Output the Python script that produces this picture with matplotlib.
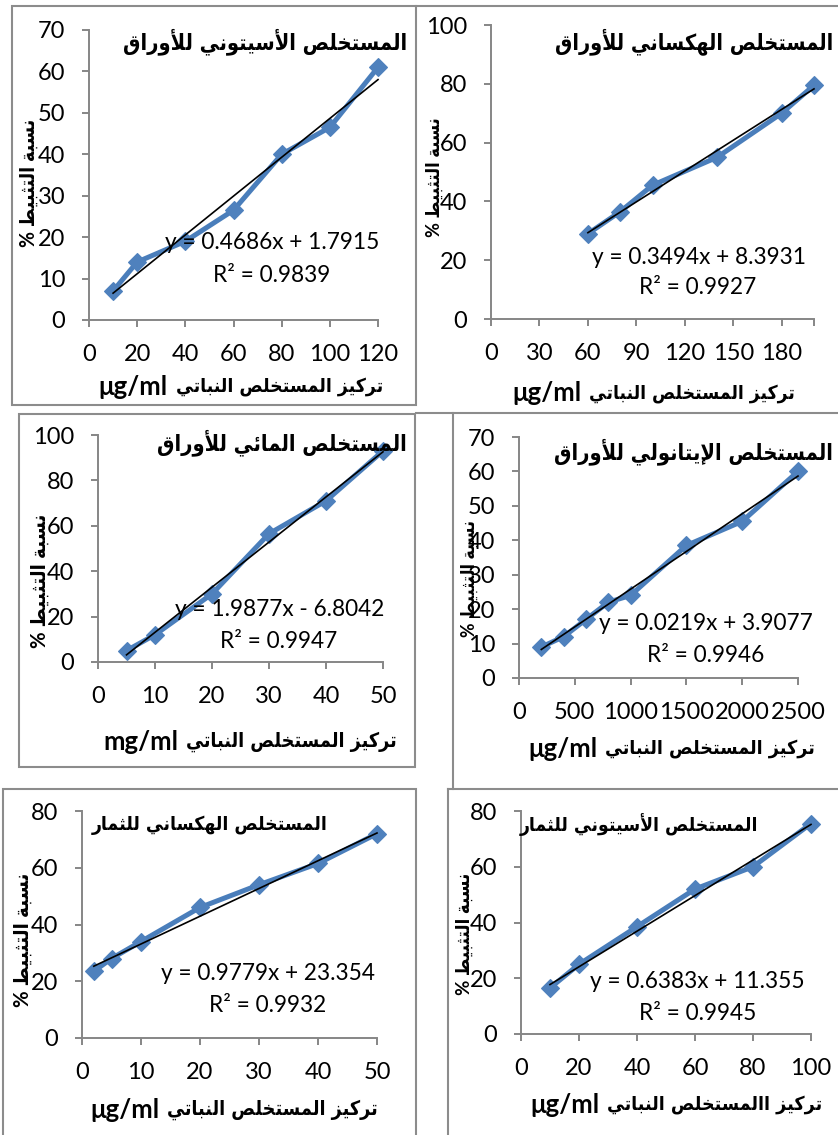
import matplotlib
matplotlib.use("Agg")
import matplotlib.pyplot as plt
from matplotlib.lines import Line2D
from matplotlib.patches import Rectangle

# ---------------------------------------------------------------- data
titles = [
    "المستخلص الأسيتوني للأوراق",
    "المستخلص الهكساني للأوراق",
    "المستخلص المائي للأوراق",
    "المستخلص الإيتانولي للأوراق",
    "المستخلص الهكساني للثمار",
    "المستخلص الأسيتوني للثمار",
]
ylabel_ar = "نسبة التثبيط"
xlabel_ar = "تركيز المستخلص النباتي"
xlabel_ar_fruit_acetone = "تركيز االمستخلص النباتي"
units = ["μg/ml", "μg/ml", "mg/ml", "μg/ml", "μg/ml", "μg/ml"]

# leaves, acetone extract
x_leaf_acetone = [10, 20, 40, 60, 80, 100, 120]
y_leaf_acetone = [7, 14, 19, 26.5, 40, 46.5, 61]
# leaves, hexane extract
x_leaf_hexane = [60, 80, 100, 140, 180, 200]
y_leaf_hexane = [29, 36.5, 45.5, 55, 70, 79.5]
# leaves, aqueous extract
x_leaf_water = [5, 10, 20, 30, 40, 50]
y_leaf_water = [5, 12, 30, 56.5, 71, 93]
# leaves, ethanol extract
x_leaf_ethanol = [200, 400, 600, 800, 1000, 1500, 2000, 2500]
y_leaf_ethanol = [9, 12, 17, 22, 24, 38.5, 45.5, 60]
# fruits, hexane extract
x_fruit_hexane = [2, 5, 10, 20, 30, 40, 50]
y_fruit_hexane = [23.5, 28, 34, 46, 54, 61.5, 72]
# fruits, acetone extract
x_fruit_acetone = [10, 20, 40, 60, 80, 100]
y_fruit_acetone = [16.5, 25, 38.5, 52, 60, 75.5]

# linear trend lines (slope, intercept, R²)
slopes = [0.4686, 0.3494, 1.9877, 0.0219, 0.9779, 0.6383]
intercepts = [1.7915, 8.3931, -6.8042, 3.9077, 23.354, 11.355]
r_squared = [0.9839, 0.9927, 0.9947, 0.9946, 0.9932, 0.9945]
slope_fmt = ["{:.4f}", "{:.4f}", "{:.4f}", "{:.4f}", "{:.4f}", "{:.4f}"]
icpt_fmt = ["{:.4f}", "{:.4f}", "{:.4f}", "{:.4f}", "{:.3f}", "{:.3f}"]

# axis ticks
xticks = [
    [0, 20, 40, 60, 80, 100, 120],
    [0, 30, 60, 90, 120, 150, 180],
    [0, 10, 20, 30, 40, 50],
    [0, 500, 1000, 1500, 2000, 2500],
    [0, 10, 20, 30, 40, 50],
    [0, 20, 40, 60, 80, 100],
]
xmax = [120, 200, 50, 2500, 50, 100]
yticks = [
    [0, 10, 20, 30, 40, 50, 60, 70],
    [0, 20, 40, 60, 80, 100],
    [0, 20, 40, 60, 80, 100],
    [0, 10, 20, 30, 40, 50, 60, 70],
    [0, 20, 40, 60, 80],
    [0, 20, 40, 60, 80],
]

series_x = [x_leaf_acetone, x_leaf_hexane, x_leaf_water,
            x_leaf_ethanol, x_fruit_hexane, x_fruit_acetone]
series_y = [y_leaf_acetone, y_leaf_hexane, y_leaf_water,
            y_leaf_ethanol, y_fruit_hexane, y_fruit_acetone]

# ---------------------------------------------------------------- Arabic shaping
# presentation-form code point of the isolated glyph, and number of forms
# (2 = joins only to the preceding letter, 4 = joins on both sides)
_FORMS = {
    'ا': (0xFE8D, 2), 'أ': (0xFE83, 2), 'إ': (0xFE87, 2), 'ب': (0xFE8F, 4),
    'ة': (0xFE93, 2), 'ت': (0xFE95, 4), 'ث': (0xFE99, 4), 'خ': (0xFEA5, 4),
    'ر': (0xFEAD, 2), 'ز': (0xFEAF, 2), 'س': (0xFEB1, 4), 'ص': (0xFEB9, 4),
    'ط': (0xFEC1, 4), 'ق': (0xFED5, 4), 'ك': (0xFED9, 4), 'ل': (0xFEDD, 4),
    'م': (0xFEE1, 4), 'ن': (0xFEE5, 4), 'ه': (0xFEE9, 4), 'و': (0xFEED, 2),
    'ي': (0xFEF1, 4), 'ئ': (0xFE89, 4),
}
_LAM_ALEF = {'ا': 0xFEFB, 'أ': 0xFEF7, 'إ': 0xFEF9}


def shape_ar(text):
    """Contextual forms + lam-alef ligatures, returned in visual order."""
    tokens = []
    i = 0
    while i < len(text):
        c = text[i]
        if c == 'ل' and i + 1 < len(text) and text[i + 1] in _LAM_ALEF:
            tokens.append(('LA', _LAM_ALEF[text[i + 1]]))
            i += 2
        else:
            tokens.append(('C', c))
            i += 1

    def joining(tok):
        if tok[0] == 'LA':
            return 2
        return _FORMS.get(tok[1], (0, 0))[1]

    out = []
    for k, tok in enumerate(tokens):
        n = joining(tok)
        prev = k > 0 and joining(tokens[k - 1]) == 4
        nxt = n == 4 and k + 1 < len(tokens) and joining(tokens[k + 1]) > 0
        if tok[0] == 'LA':
            out.append(chr(tok[1] + (1 if prev else 0)))
        elif n == 0:
            out.append(tok[1])
        elif n == 2:
            out.append(chr(_FORMS[tok[1]][0] + (1 if prev else 0)))
        else:
            off = 3 if (prev and nxt) else 1 if prev else 2 if nxt else 0
            out.append(chr(_FORMS[tok[1]][0] + off))
    return ''.join(reversed(out))


# ---------------------------------------------------------------- layout (pixels)
W, H = 838, 1135
fig = plt.figure(figsize=(W / 100, H / 100), dpi=100)
fig.patch.set_facecolor("white")
renderer = fig.canvas.get_renderer()


def fx(x):
    return x / W


def fy(y):
    return 1 - y / H


def fit(txt, length_px, vertical=False):
    """Scale a text's font size so that it spans length_px pixels."""
    ext = txt.get_window_extent(renderer)
    cur = ext.height if vertical else ext.width
    txt.set_fontsize(txt.get_fontsize() * length_px / cur)


# axes boxes: left, right, top, bottom
axes_px = [
    (89, 378, 30, 320),
    (491, 814, 25, 319),
    (98, 383, 435, 662),
    (519, 798, 437, 678),
    (82, 377, 811, 1038),
    (521, 811, 811, 1034),
]
# title: left, right, centre-y
title_px = [(122, 407, 42), (553, 833, 42), (156, 407, 443),
            (552, 833, 452), (91, 328, 825), (518, 758, 825)]
eq_px = [(272, 243), (699, 258), (280, 610), (706, 623), (268, 973), (697, 982)]
r2_px = [(272, 275), (698, 288), (279, 642), (706, 655), (268, 1005), (698, 1013)]
# y-axis title: centre-x, top, bottom
ylab_px = [(29, 118, 247), (434, 117, 238), (40, 513, 648),
           (469, 520, 637), (23, 872, 1007), (464, 872, 995)]
# x-axis title: unit left, Arabic right, centre-y
xlab_px = [(98, 383, 387), (512, 795, 393), (103, 397, 742),
           (528, 815, 749), (90, 378, 1110), (530, 822, 1105)]

FRAME = "#8c8c8c"
AXIS = "#868686"
LINE_BLUE = "#4A7EBB"
MARK_BLUE = "#4F81BD"
NUM_FONT = ["Lato", "DejaVu Sans"]
AR_FONT = ["DejaVu Sans"]
MIX_FONT = ["Lato", "DejaVu Sans"]
AR_KW = dict(fontweight="bold", family=AR_FONT, fontstretch="condensed")

# chart-area frames
frame_kw = dict(color=FRAME, lw=1.5, transform=fig.transFigure)
for (l, t, r, b) in [(12, 6, 416, 405), (19, 414, 415, 767), (3, 789, 416, 1140)]:
    fig.add_artist(Rectangle((fx(l), fy(b)), fx(r) - fx(l), fy(t) - fy(b),
                             fill=False, edgecolor=FRAME, lw=1.5,
                             transform=fig.transFigure))
for (x0, y0, x1, y1) in [(416, 6, 840, 6),
                         (416, 413, 840, 413), (453, 413, 453, 789),
                         (448, 789, 840, 789), (448, 789, 448, 1140)]:
    fig.add_artist(Line2D([fx(x0), fx(x1)], [fy(y0), fy(y1)], **frame_kw))

for k in range(6):
    l, r, t, b = axes_px[k]
    ax = fig.add_axes([fx(l), fy(b), fx(r) - fx(l), fy(t) - fy(b)])
    ax.set_facecolor("none")
    xs, ys = series_x[k], series_y[k]

    ax.plot(xs, ys, color=LINE_BLUE, lw=3.6, marker="D", ms=9.6,
            mfc=MARK_BLUE, mec=MARK_BLUE, mew=0.8, solid_joinstyle="round",
            clip_on=False, zorder=3)
    x0, x1 = xs[0], xs[-1]
    ax.plot([x0, x1], [slopes[k] * x0 + intercepts[k], slopes[k] * x1 + intercepts[k]],
            color="black", lw=1.2, clip_on=False, zorder=4)

    ax.set_xlim(0, xmax[k])
    ax.set_ylim(yticks[k][0], yticks[k][-1])
    ax.set_xticks(xticks[k])
    ax.set_xticklabels([str(v) for v in xticks[k]])
    if xmax[k] not in xticks[k]:
        ax.set_xticks([xmax[k]], minor=True)
    ax.set_yticks(yticks[k])
    ax.set_yticklabels([str(v) for v in yticks[k]])

    for side in ("top", "right"):
        ax.spines[side].set_visible(False)
    for side in ("left", "bottom"):
        ax.spines[side].set_color(AXIS)
        ax.spines[side].set_linewidth(1.4)
    ax.tick_params(axis="both", which="both", direction="out", length=5,
                   width=1.4, color=AXIS, labelsize=17, labelcolor="black")
    ax.tick_params(axis="x", pad=12.5)
    ax.tick_params(axis="y", pad=12)
    for lab in ax.get_xticklabels() + ax.get_yticklabels():
        lab.set_family(NUM_FONT)

    # trend-line equation
    sign = "+" if intercepts[k] >= 0 else "-"
    eq = "y = " + slope_fmt[k].format(slopes[k]) + "x " + sign + " " + \
        icpt_fmt[k].format(abs(intercepts[k]))
    fig.text(fx(eq_px[k][0]), fy(eq_px[k][1]), eq, ha="center", va="center",
             fontsize=16.3, family=NUM_FONT, zorder=5)
    fig.text(fx(r2_px[k][0]), fy(r2_px[k][1]), "R² = {:.4f}".format(r_squared[k]),
             ha="center", va="center", fontsize=16.3, family=NUM_FONT, zorder=5)

    # chart title
    tl, tr, ty = title_px[k]
    tt = fig.text(fx(tr), fy(ty), shape_ar(titles[k]), ha="right", va="center",
                  fontsize=15, zorder=5, **AR_KW)
    fit(tt, tr - tl)

    # y-axis title
    yc, yt, yb = ylab_px[k]
    yl = fig.text(fx(yc), fy((yt + yb) / 2), "% " + shape_ar(ylabel_ar),
                  ha="center", va="center", rotation=90, fontsize=15,
                  fontweight="bold", family=MIX_FONT, fontstretch="condensed",
                  zorder=5)
    fit(yl, yb - yt, vertical=True)

    # x-axis title: unit on the left, Arabic words on the right
    ul, ar_r, xy = xlab_px[k]
    ut = fig.text(fx(ul), fy(xy), units[k], ha="left", va="center",
                  fontsize=18.5, fontweight="bold", family=MIX_FONT, zorder=5)
    u_right = ut.get_window_extent(renderer).x1
    xl_ar = xlabel_ar_fruit_acetone if k == 5 else xlabel_ar
    at = fig.text(fx(ar_r), fy(xy), shape_ar(xl_ar), ha="right", va="center",
                  fontsize=15, zorder=5, **AR_KW)
    fit(at, ar_r - (u_right + 7))

fig.savefig("out.png", dpi=100, facecolor="white")
